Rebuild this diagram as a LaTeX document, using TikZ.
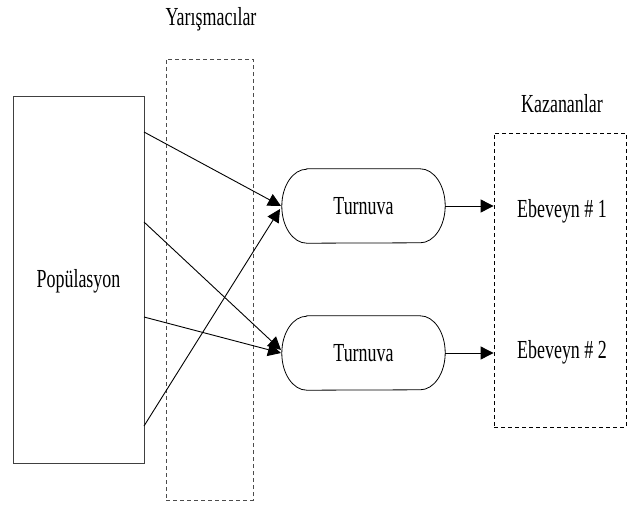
\documentclass[tikz,border=0pt]{standalone}
\usepackage{fontspec}
\setmainfont{Liberation Serif}[FakeStretch=0.69]
\usetikzlibrary{arrows.meta}
\begin{document}
\begin{tikzpicture}[x=1pt,y=-1pt,
  lbl/.style={font=\fontsize{26}{30}\selectfont, inner sep=0pt},
  dbox/.style={draw, dashed, dash pattern=on 4pt off 3pt, line width=0.8pt},
  conn/.style={draw, line width=0.9pt, -{Triangle[length=13pt,width=13pt]}},
  tour/.style={lbl, minimum width=163pt, minimum height=74pt}
]
\useasboundingbox (0,0) rectangle (627,506);
% population
\node[draw=black!75, line width=0.9pt, minimum width=131pt, minimum height=367pt, inner sep=0pt] (pop) at (78.5,279.5) {};
\node[lbl] (poptxt) at (78.5,281) {Popülasyon};
% contestants box
\node[dbox, draw=black!70, minimum width=87pt, minimum height=441pt, inner sep=0pt] (cont) at (209.5,279.5) {};
\node[lbl] (contlbl) at (211,19) {Yarışmacılar};
% winners box
\node[dbox, minimum width=132pt, minimum height=294pt, inner sep=0pt] (win) at (560,280) {};
\node[lbl] (winlbl) at (562,104) {Kazananlar};
% tournaments
\node[tour] (t1) at (363.5,206) {Turnuva};
\node[tour] (t2) at (363.5,353) {Turnuva};
\foreach \t in {t1,t2}{
  \draw[line width=0.8pt] ([xshift=25pt]\t.north west) -- ([xshift=-25pt]\t.north east)
    arc[start angle=90, end angle=-90, x radius=25pt, y radius=37pt]
    -- ([xshift=25pt]\t.south west)
    arc[start angle=270, end angle=90, x radius=25pt, y radius=37pt] -- cycle;
}
% parents
\node[lbl] (p1) at (562,211) {Ebeveyn \# 1};
\node[lbl] (p2) at (562,352) {Ebeveyn \# 2};
% anchors on population box
\coordinate (s1) at (144,132);
\coordinate (s2) at (144,222);
\coordinate (s3) at (144,317);
\coordinate (s4) at (144,426);
\coordinate (e1a) at (281,206);
\coordinate (e1b) at (280,209);
\coordinate (e2a) at (281,350);
\coordinate (e2b) at (281,353);
\draw[conn] (s1) -- (e1a);
\draw[conn] (s4) -- (e1b);
\draw[conn] (s2) -- (e2a);
\draw[conn] (s3) -- (e2b);
\draw[conn] (t1.east) -- (t1.east -| win.west);
\draw[conn] (t2.east) -- (t2.east -| win.west);
\end{tikzpicture}
\end{document}
